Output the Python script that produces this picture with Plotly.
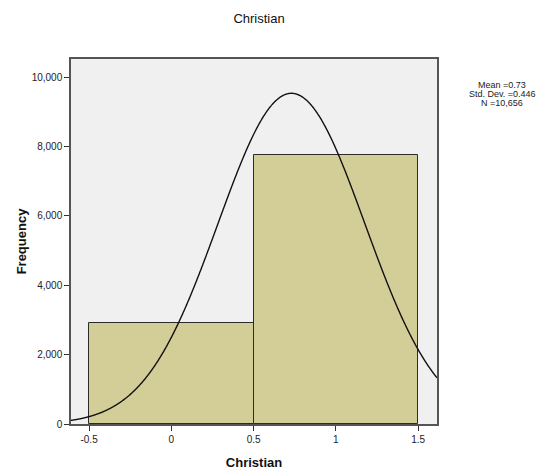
import numpy as np
import plotly.graph_objects as go

# Histogram of the "Christian" indicator (0 = no, 1 = yes)
bin_centers = [0, 1]
bin_counts = [2900, 7756]
bin_width = 1.0

# Summary statistics shown beside the chart
mean_val = 0.73
std_val = 0.446
n_val = 10656

x_range = [-0.61, 1.615]
y_range = [0, 10520]
x_ticks = [-0.5, 0, 0.5, 1, 1.5]
x_tick_text = ["-0.5", "0", "0.5", "1", "1.5"]
y_ticks = [0, 2000, 4000, 6000, 8000, 10000]
y_tick_text = ["0", "2,000", "4,000", "6,000", "8,000", "10,000"]

FONT = "Arial, Liberation Sans, sans-serif"

fig = go.Figure()

fig.add_trace(go.Bar(
    x=bin_centers,
    y=bin_counts,
    width=[bin_width] * len(bin_centers),
    marker=dict(color="#D3CE97", line=dict(color="#2b2b2b", width=1)),
    hoverinfo="x+y",
    showlegend=False,
))

# Normal curve scaled to counts using the stated mean, sd and N
xs = np.linspace(x_range[0], x_range[1], 600)
ys = n_val * bin_width / (std_val * np.sqrt(2 * np.pi)) * np.exp(-0.5 * ((xs - mean_val) / std_val) ** 2)
fig.add_trace(go.Scatter(
    x=xs, y=ys, mode="lines",
    line=dict(color="#111111", width=1.4, shape="spline"),
    showlegend=False, hoverinfo="skip",
))

# Stats block to the right of the plot, one tightly spaced line each
stat_lines = [
    "Mean =%.2f" % mean_val,
    "Std. Dev. =%.3f" % std_val,
    "N =%s" % f"{n_val:,}",
]
plot_left, plot_right, plot_top, plot_bottom = 71, 437, 59, 424
stat_annotations = [
    dict(
        text=line, xref="paper", yref="paper",
        x=(502 - plot_left) / (plot_right - plot_left),
        y=1 - (85 + 9 * i - plot_top) / (plot_bottom - plot_top),
        xanchor="center", yanchor="middle", showarrow=False,
        font=dict(family=FONT, size=9, color="#222222"),
    )
    for i, line in enumerate(stat_lines)
]

fig.update_layout(
    width=545, height=474,
    margin=dict(l=plot_left, r=545 - plot_right, t=plot_top, b=474 - plot_bottom),
    paper_bgcolor="white",
    plot_bgcolor="#F0F0F0",
    font=dict(family=FONT, size=10, color="#222222"),
    bargap=0,
    title=dict(
        text="Christian",
        x=280 / 545, xanchor="center", xref="paper",
        y=1 - 18 / 474, yanchor="middle",
        font=dict(family=FONT, size=13, color="#111111"),
    ),
    xaxis=dict(
        range=x_range, tickvals=x_ticks, ticktext=x_tick_text,
        ticks="outside", ticklen=5, tickcolor="#333333", tickwidth=1,
        showgrid=False, zeroline=False, automargin=False,
        showline=True, linecolor="#555555", linewidth=1.5, mirror=True,
        tickfont=dict(family=FONT, size=10, color="#222222"),
        title=dict(text="<b>Christian</b>", standoff=14,
                   font=dict(family=FONT, size=13, color="#111111")),
    ),
    yaxis=dict(
        range=y_range, tickvals=y_ticks, ticktext=y_tick_text,
        ticks="outside", ticklen=5, tickcolor="#333333", tickwidth=1,
        showgrid=False, zeroline=False, automargin=False,
        showline=True, linecolor="#555555", linewidth=1.5, mirror=True,
        tickfont=dict(family=FONT, size=10, color="#222222"),
        title=dict(text="<b>Frequency</b>", standoff=2,
                   font=dict(family=FONT, size=13, color="#111111")),
    ),
    annotations=stat_annotations,
)

fig.write_html("out.html")
